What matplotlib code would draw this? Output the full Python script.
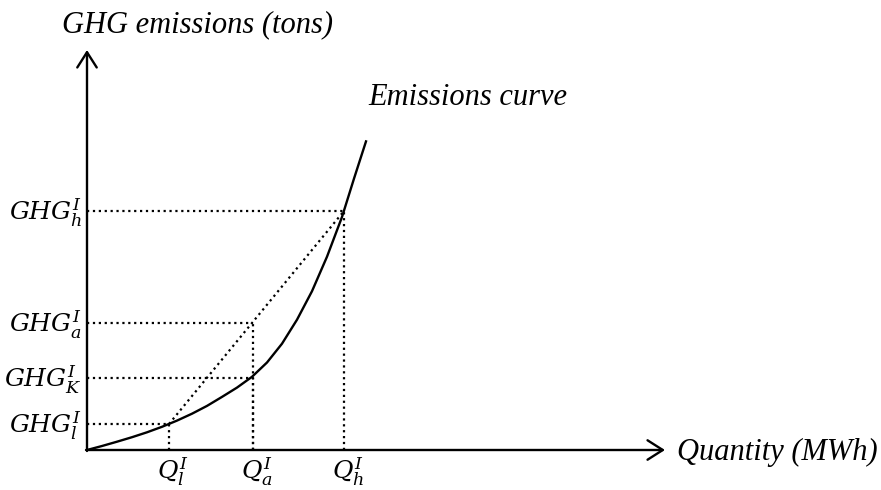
import matplotlib
matplotlib.use("Agg")
import matplotlib.pyplot as plt

# Emissions curve (origin at the axes corner)
curve_q = [0, 15, 30, 45, 60, 75, 90, 105, 120, 135, 150, 165, 180, 195,
           210, 225, 240, 255, 267, 279]
curve_ghg = [0, 4, 8.3, 12.8, 17.7, 23.2, 29.4, 36.3, 44.1, 53.1, 62.4, 73.2,
             87.5, 106.3, 130.3, 158.8, 193.3, 233, 271.4, 308.6]

# Marked quantities and emission levels
q_names = ['l', 'a', 'h']
q_values = [82, 166, 257]
ghg_names = ['h', 'a', 'K', 'l']
ghg_values = [239, 127, 72, 26]

# Dotted guide lines: (quantity, emission level) pairs
guide_points = [(82, 26), (166, 127), (166, 72), (257, 239)]

x_arrow_end = 578
y_arrow_end = 400

plt.rcParams['mathtext.fontset'] = 'dejavuserif'
serif = 'Liberation Serif'

fig = plt.figure(figsize=(8.81, 4.90), dpi=100)
ax = fig.add_axes([0, 0, 1, 1])
ax.set_xlim(-87, 794)
ax.set_ylim(-40, 450)
ax.axis('off')

# Axes drawn as arrows
arrow = dict(arrowstyle='->,head_length=0.55,head_width=0.35', lw=1.7,
             color='black', shrinkA=0, shrinkB=0, mutation_scale=20)
ax.annotate('', xy=(x_arrow_end, 0), xytext=(-1, 0), arrowprops=arrow)
ax.annotate('', xy=(0, y_arrow_end), xytext=(0, -1), arrowprops=arrow)

# Guide lines
dot = dict(color='black', linestyle=':', lw=1.6)
for q, g in guide_points:
    ax.plot([0, q], [g, g], **dot)
    ax.plot([q, q], [0, g], **dot)
# Chord between the low and high points
ax.plot([q_values[0], q_values[2]], [ghg_values[3], ghg_values[0]], **dot)

# Emissions curve
ax.plot(curve_q, curve_ghg, color='black', lw=1.7, solid_joinstyle='round')

# Labels on the axes
for name, g in zip(ghg_names, ghg_values):
    ax.text(-5, g - 2, rf'$GHG_{{{name}}}^{{I}}$', fontsize=18,
            ha='right', va='center')
for name, q in zip(q_names, q_values):
    ax.text(q + 4, -6, rf'$Q_{{{name}}}^{{I}}$', fontsize=18,
            ha='center', va='top')

ax.text(-25, 418, 'GHG emissions (tons)', fontsize=22, family=serif,
        style='italic', ha='left', va='baseline')
ax.text(590, -10, 'Quantity (MWh)', fontsize=22, family=serif,
        style='italic', ha='left', va='baseline')
ax.text(281, 345, 'Emissions curve', fontsize=22, family=serif,
        style='italic', ha='left', va='baseline')

fig.savefig('out.png', dpi=100)
